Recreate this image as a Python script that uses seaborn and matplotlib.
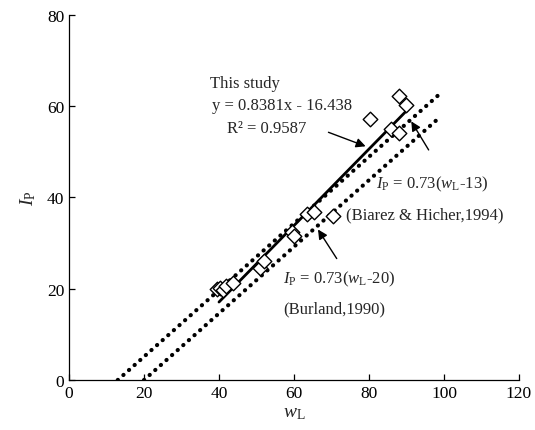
import matplotlib
matplotlib.use("Agg")
import matplotlib.pyplot as plt
import seaborn as sns
import numpy as np
import pandas as pd

# Data
wL = [39.5, 40.3, 41.1, 42.0, 43.8, 51.0, 52.0, 59.5, 60.0, 63.4, 65.3, 70.5, 80.3, 86.0, 88.1, 88.1, 90.0]
IP = [20.0, 20.1, 19.8, 20.5, 21.3, 24.5, 26.0, 32.5, 31.5, 36.4, 36.9, 36.0, 57.1, 55.0, 54.1, 62.3, 60.3]

fit_slope, fit_icpt = 0.8381, -16.438
fit_x = [40.0, 90.5]
biarez_x = [13.0, 98.75]
burland_x = [20.0, 98.75]
x_ticks = [0, 20, 40, 60, 80, 100, 120]
y_ticks = [0, 20, 40, 60, 80]

sns.set_style("ticks")
plt.rcParams['font.family'] = ['Liberation Serif', 'DejaVu Serif']
plt.rcParams['mathtext.fontset'] = 'custom'
plt.rcParams['mathtext.rm'] = 'Liberation Serif'
plt.rcParams['mathtext.it'] = 'Liberation Serif:italic'

fig = plt.figure(figsize=(5.35, 4.31), dpi=100)
ax = fig.add_axes([0.129, 0.116, 0.841, 0.847])

fit_df = pd.DataFrame({"x": fit_x, "y": [fit_slope * v + fit_icpt for v in fit_x]})
bi_df = pd.DataFrame({"x": biarez_x, "y": [0.73 * (v - 13) for v in biarez_x]})
bu_df = pd.DataFrame({"x": burland_x, "y": [0.73 * (v - 20) for v in burland_x]})

dot = (0, (0.05, 1.75))
sns.lineplot(data=bi_df, x="x", y="y", ax=ax, color="black", lw=3.0,
             linestyle=dot, dash_capstyle="round")
sns.lineplot(data=bu_df, x="x", y="y", ax=ax, color="black", lw=3.0,
             linestyle=dot, dash_capstyle="round")
sns.lineplot(data=fit_df, x="x", y="y", ax=ax, color="black", lw=2.0)

pts = pd.DataFrame({"wL": wL, "IP": IP})
sns.scatterplot(data=pts, x="wL", y="IP", ax=ax, marker="D", s=55,
                facecolor="white", edgecolor="black", linewidth=1.0, zorder=5)

ax.set_xlim(0, 120)
ax.set_ylim(0, 80)
ax.set_xticks(x_ticks)
ax.set_yticks(y_ticks)
ax.tick_params(direction="in", length=4, width=0.9, labelsize=12.5, colors="black")
for s in ["top", "right"]:
    ax.spines[s].set_visible(False)
for s in ["left", "bottom"]:
    ax.spines[s].set_linewidth(0.9)
    ax.spines[s].set_color("black")

ax.set_xlabel(r"$w_{\mathrm{L}}$", fontsize=14, labelpad=2)
ax.set_ylabel(r"$I_{\mathrm{P}}$", fontsize=14, labelpad=6)

fs = 12
ax.text(37.6, 65.1, "This study", fontsize=fs, ha="left", va="center")
ax.text(38.2, 60.3, "y = 0.8381x - 16.438", fontsize=fs, ha="left", va="center")
ax.text(42.2, 55.2, "R² = 0.9587", fontsize=fs, ha="left", va="center")

arrow = dict(arrowstyle="-|>", color="black", lw=1.0, mutation_scale=14)
ax.annotate("", xy=(79.8, 51.0), xytext=(68.5, 54.5), arrowprops=arrow)
ax.annotate("", xy=(90.9, 57.2), xytext=(96.3, 49.9), arrowprops=arrow)
ax.annotate("", xy=(66.0, 33.5), xytext=(71.8, 26.1), arrowprops=arrow)

ax.text(82.0, 43.0, r"$I_{\mathrm{P}}$ = 0.73($w_{\mathrm{L}}$-13)", fontsize=fs, ha="left", va="center")
ax.text(73.8, 36.4, "(Biarez & Hicher,1994)", fontsize=fs, ha="left", va="center")
ax.text(57.2, 22.2, r"$I_{\mathrm{P}}$ = 0.73($w_{\mathrm{L}}$-20)", fontsize=fs, ha="left", va="center")
ax.text(57.2, 15.8, "(Burland,1990)", fontsize=fs, ha="left", va="center")

fig.savefig("out.png", dpi=100)
